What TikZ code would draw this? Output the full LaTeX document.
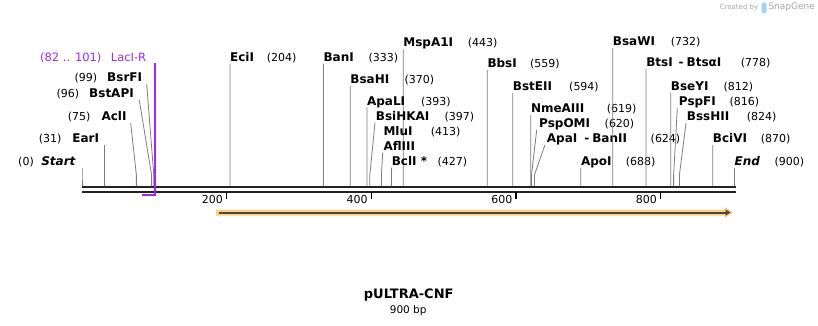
\documentclass[tikz,border=0pt]{standalone}
\usepackage{fontspec}
\setmainfont{DejaVu Sans}
\usetikzlibrary{arrows.meta}
\definecolor{sitegray}{RGB}{125,125,125}
\definecolor{lacpurple}{RGB}{160,40,240}
\definecolor{featorange}{RGB}{250,208,135}
\definecolor{featdark}{RGB}{80,70,60}
\definecolor{bbdark}{RGB}{34,34,34}
\definecolor{markgray}{RGB}{165,165,165}
\definecolor{logoblue}{RGB}{165,210,245}

\begin{document}
\begin{tikzpicture}[x=1pt,y=-1pt,
    enz/.style={inner sep=0pt,font=\fontsize{12}{14}\selectfont\bfseries},
    num/.style={inner sep=0pt,font=\fontsize{11}{13}\selectfont},
    siteline/.style={sitegray,line width=0.8pt},
    tickmark/.style={line width=1.6pt}]
\useasboundingbox (0,0) rectangle (818,325);
\draw[bbdark,line width=2.6pt] (82,187) -- (735.5,187);
\draw[bbdark,line width=2pt] (82,191.7) -- (735.5,191.7);
\foreach \t in {200,400,600,800}{
    \coordinate (tk\t) at ({82+0.7233*\t},191.7);
    \draw[tickmark] (tk\t) -- ++(0,7.3);
    \node[num,anchor=base east] (tl\t) at ([xshift=-3.5pt,yshift=-11.3pt]tk\t) {\t};
}
\foreach \p/\tx/\lx/\by/\txt/\nx [count=\i] in {
    204/229.9/229.9/61.7/EciI/266.7,
    333/323.4/323.4/61.7/BanI/368.3,
    443/403.2/403.2/46.7/MspA1I/467.7,
    370/350.25/350.25/83.3/BsaHI/404.3,
    393/366.9/366.9/105/ApaLI/421,
    397/375/375.7/120/BsiHKAI/444.3,
    427/391.6/391.6/165/{BclI *}/437.3,
    559/487.3/487.3/67.3/BbsI/530,
    594/512.65/512.65/90.7/BstEII/569,
    619/530.8/530.8/112.7/NmeAIII/606.7,
    620/536.7/539/127.3/PspOMI/604.5,
    624/545/546.7/142.3/{ApaI\hspace{7pt}-\hspace{3pt}BanII}/650.5,
    688/580.8/580.8/165/ApoI/625.7,
    732/612.7/612.7/45.7/BsaWI/670.7,
    778/646.05/646.05/66.7/{BtsI\hspace{6pt}-\hspace{3pt}BtsαI}/740.7,
    812/670.7/670.7/90/BseYI/723.3,
    816/677.3/678.7/105.7/PspFI/729.3,
    824/686/686.7/120.7/BssHII/746.7,
    870/712.75/712.75/142.7/BciVI/760.7,
    900/734.5/734.5/165.7/\textit{End}/774.3}{
    \node[enz,anchor=base west] (r\i) at (\lx,\by) {\txt};
    \node[num,anchor=base west] (rn\i) at (\nx,\by) {(\p)};
    \coordinate (rt\i) at (\tx,\by+2.5);
    \coordinate (rk\i) at ({82+0.725*\p},175);
    \coordinate (rs\i) at ({82+0.725*\p},186);
    \draw[siteline] (rt\i) -- (rk\i) -- (rs\i);
}
\node[enz,anchor=base west] (mlu) at (383.3,135) {MluI};
\node[num,anchor=base west] (mlun) at (430.7,135) {(413)};
\node[enz,anchor=base west] (afl) at (383.3,150) {AflIII};
\coordinate (aflt) at (382.7,152.7);
\coordinate (aflk) at ({82+0.725*413},175);
\coordinate (afls) at ({82+0.725*413},186);
\draw[siteline] (aflt) -- (aflk) -- (afls);
\foreach \p/\tx/\rx/\by/\txt/\nx [count=\i] in {
    0/82/76/165/\textit{Start}/34,
    31/104.5/99.3/142.7/EarI/61.7,
    75/130.7/126.7/120.7/AclI/90.7,
    96/139.3/134/97.7/BstAPI/79.3,
    99/146.7/142.3/81.7/BsrFI/97.3}{
    \node[enz,anchor=base east] (l\i) at (\rx,\by) {\txt};
    \node[num,anchor=base east] (ln\i) at (\nx,\by) {(\p)};
    \coordinate (lt\i) at (\tx,\by+2.5);
    \coordinate (lk\i) at ({82+0.725*\p},175);
    \coordinate (ls\i) at ({82+0.725*\p},186);
    \draw[siteline] (lt\i) -- (lk\i) -- (ls\i);
}
\node[num,lacpurple,anchor=base east,font=\fontsize{11.5}{13}\selectfont] (lacn) at (101.7,61) {(82 .. 101)};
\node[num,lacpurple,anchor=base west,font=\fontsize{11.5}{13}\selectfont] (lac) at (110.7,61) {LacI-R};
\coordinate (lact) at (155.2,63);
\coordinate (lacb) at (155.2,195);
\coordinate (lace) at (141.5,195);
\draw[lacpurple,line width=1.8pt] (lact) -- (lacb) -- (lace);
\fill[featorange] (216,209.5) -- (724.5,209.5) -- (724.5,207) -- (733,212.5)
    -- (724.5,218) -- (724.5,215.5) -- (216,215.5) -- cycle;
\coordinate (fs) at (219,212.5);
\coordinate (fe) at (730.5,212.5);
\draw[featdark,line width=2pt,-{Triangle[length=5pt,width=6pt]}] (fs) -- (fe);
\node[font=\fontsize{13}{15}\selectfont\bfseries,anchor=base,inner sep=0pt] (title) at (408.7,298.3) {pULTRA-CNF};
\node[font=\fontsize{10.5}{12}\selectfont,anchor=base,inner sep=0pt] (len) at (408.2,313.3) {900 bp};
\node[markgray,font=\fontsize{7}{8}\selectfont,inner sep=0pt] (made) at (739,8) {Created by};
\fill[logoblue,rounded corners=1pt] (761.5,2.5) rectangle (766.5,13);
\node[markgray,font=\fontsize{9}{10}\selectfont,inner sep=0pt] (sg) at (791.7,7.5) {SnapGene};
\end{tikzpicture}
\end{document}
